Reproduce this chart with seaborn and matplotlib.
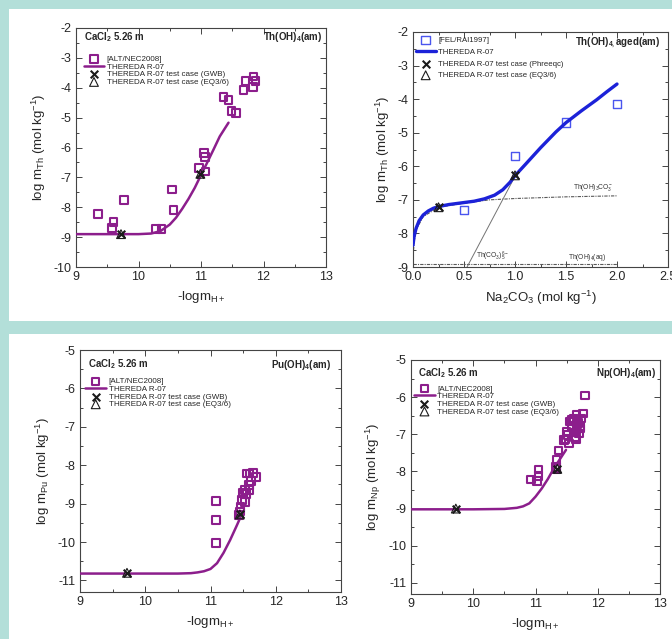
import matplotlib.pyplot as plt
import seaborn as sns
from matplotlib.patches import Rectangle
from matplotlib.ticker import MultipleLocator, FormatStrFormatter


# DATA: Th(OH)4(am) IN 5.26 m CaCl2
TH_SQ_X = [9.35, 9.60, 9.58, 9.77, 10.28, 10.37, 10.54, 10.56, 10.97, 11.05, 11.06, 11.07,
           11.36, 11.44, 11.49, 11.56, 11.68, 11.71, 11.83, 11.84, 11.87]
TH_SQ_Y = [-8.23, -8.49, -8.70, -7.75, -8.73, -8.73, -7.41, -8.10, -6.69, -6.18, -6.32, -6.80,
           -4.30, -4.41, -4.78, -4.84, -4.08, -3.77, -3.97, -3.62, -3.77]
TH_LINE_X = [9.0, 9.5, 10.0, 10.2, 10.35, 10.5, 10.6, 10.7, 10.8, 10.9, 11.0, 11.1, 11.2, 11.3, 11.44]
TH_LINE_Y = [-8.90, -8.90, -8.90, -8.88, -8.80, -8.58, -8.35, -8.05, -7.72, -7.35, -6.92, -6.50,
             -6.07, -5.63, -5.17]
TH_TEST_X = [9.72, 10.99]
TH_TEST_Y = [-8.90, -6.88]

# DATA: Th(OH)4 aged IN Na2CO3
NA_SQ_X = [0.5, 1.0, 1.5, 2.0]
NA_SQ_Y = [-7.30, -5.70, -4.70, -4.15]
NA_LINE_X = [0.0, 0.01, 0.03, 0.06, 0.1, 0.15, 0.2, 0.25, 0.35, 0.5, 0.6, 0.7, 0.8, 0.88, 0.95,
             1.0, 1.1, 1.25, 1.4, 1.5, 1.65, 1.8, 1.9, 2.0]
NA_LINE_Y = [-8.35, -8.10, -7.85, -7.62, -7.45, -7.33, -7.25, -7.20, -7.14, -7.08, -7.04, -6.97,
             -6.86, -6.70, -6.48, -6.28, -5.95, -5.45, -4.98, -4.70, -4.35, -4.02, -3.78, -3.55]
NA_TEST_X = [0.25, 1.0]
NA_TEST_Y = [-7.22, -6.27]
OHCO3_X = [0.0, 0.003, 0.01, 0.03, 0.1, 0.25, 0.5, 0.75, 1.0, 1.5, 2.0]
OHCO3_Y = [-8.90, -8.60, -8.30, -7.90, -7.50, -7.22, -7.10, -7.00, -6.96, -6.91, -6.88]
CO3_X = [0.53, 1.0]
CO3_Y = [-9.0, -6.3]
OHAQ_X = [0.0, 2.0]
OHAQ_Y = [-8.9, -8.9]

# DATA: Pu(OH)4(am) IN 5.26 m CaCl2
PU_SQ_X = [11.08, 11.08, 11.08, 11.44, 11.45, 11.46, 11.48, 11.53, 11.50, 11.55, 11.53, 11.60,
           11.59, 11.62, 11.55, 11.60, 11.65, 11.70]
PU_SQ_Y = [-8.93, -9.42, -10.03, -9.30, -9.20, -9.08, -8.90, -8.95, -8.73, -8.75, -8.65, -8.65,
           -8.52, -8.41, -8.22, -8.22, -8.20, -8.30]
PU_LINE_X = [9.0, 10.0, 10.5, 10.7, 10.8, 10.9, 11.0, 11.1, 11.2, 11.3, 11.4, 11.46]
PU_LINE_Y = [-10.82, -10.82, -10.82, -10.81, -10.79, -10.76, -10.70, -10.55, -10.28, -9.95,
             -9.58, -9.35]
PU_TEST_X = [9.72, 11.45]
PU_TEST_Y = [-10.80, -9.28]

# DATA: Np(OH)4(am) IN 5.26 m CaCl2
NP_SQ_X = [10.93, 11.02, 11.05, 11.05, 11.33, 11.34, 11.34, 11.37, 11.46, 11.48, 11.50, 11.52,
           11.54, 11.55, 11.58, 11.58, 11.61, 11.63, 11.63, 11.65, 11.66, 11.66, 11.67, 11.69,
           11.70, 11.71, 11.72, 11.74, 11.76, 11.80]
NP_SQ_Y = [-8.22, -8.25, -8.12, -7.95, -7.88, -7.93, -7.70, -7.44, -7.16, -7.14, -6.93, -7.02,
           -7.25, -6.66, -6.80, -6.62, -6.57, -6.95, -7.07, -7.13, -6.89, -6.48, -6.72, -6.70,
           -6.98, -6.80, -6.84, -6.57, -6.44, -5.96]
NP_LINE_X = [9.0, 10.0, 10.5, 10.7, 10.8, 10.9, 11.0, 11.1, 11.2, 11.3, 11.4, 11.49]
NP_LINE_Y = [-9.02, -9.02, -9.01, -8.98, -8.94, -8.86, -8.68, -8.46, -8.20, -7.90, -7.65, -7.42]
NP_TEST_X = [9.72, 11.35]
NP_TEST_Y = [-9.00, -7.93]


PURPLE = '#8c1e8c'
BLUE = '#1c22d8'
TEAL = '#b3dfd9'

sns.set_theme(style='ticks')
plt.rcParams['font.family'] = ['Liberation Sans', 'DejaVu Sans']
plt.rcParams['axes.unicode_minus'] = False
plt.rcParams['mathtext.default'] = 'regular'

fig = plt.figure(figsize=(6.72, 6.39), dpi=100, facecolor=TEAL)

# WHITE PANELS ON THE TEAL BACKGROUND
fig.add_artist(Rectangle((9 / 672, 1 - 321 / 639), 1, 312 / 639, transform=fig.transFigure,
                         facecolor='white', edgecolor='none', zorder=0))
fig.add_artist(Rectangle((9 / 672, 0), 1, 1 - 334 / 639, transform=fig.transFigure,
                         facecolor='white', edgecolor='none', zorder=0))


def style_axes(ax, xlim, ylim, xmajor, xminor, yminor=0.5):
    ax.set_xlim(*xlim)
    ax.set_ylim(*ylim)
    ax.set_facecolor('white')
    ax.xaxis.set_major_locator(MultipleLocator(xmajor))
    ax.xaxis.set_minor_locator(MultipleLocator(xminor))
    ax.yaxis.set_major_locator(MultipleLocator(1))
    ax.yaxis.set_minor_locator(MultipleLocator(yminor))
    ax.tick_params(which='both', direction='in', top=True, right=True,
                   color='#444444', width=0.7, labelsize=9, pad=3)
    ax.tick_params(which='major', length=4)
    ax.tick_params(which='minor', length=2)
    for sp in ax.spines.values():
        sp.set_color('#444444')
        sp.set_linewidth(0.8)


def draw_cacl2(ax, sq_x, sq_y, line_x, line_y, test_x, test_y, ylim, elem, title,
               text_pos, title_pos, legend_pos):
    sns.scatterplot(x=sq_x, y=sq_y, marker='s', s=30, color=PURPLE, facecolor='none',
                    edgecolor=PURPLE, linewidth=1.5, label='[ALT/NEC2008]', ax=ax, zorder=3)
    sns.lineplot(x=line_x, y=line_y, color=PURPLE, linewidth=1.8, sort=False, estimator=None,
                 label='THEREDA R-07', ax=ax, zorder=4)
    sns.scatterplot(x=test_x, y=test_y, marker='x', s=30, color='k', linewidth=1.5,
                    label='THEREDA R-07 test case (GWB)', ax=ax, zorder=5)
    sns.scatterplot(x=test_x, y=test_y, marker='^', s=40, color='k', facecolor='none',
                    edgecolor='k', linewidth=0.8,
                    label='THEREDA R-07 test case (EQ3/6)', ax=ax, zorder=5)
    style_axes(ax, (9, 13), ylim, 1, 0.5)
    ax.set_xlabel('-logm$_{H+}$', fontsize=9.5)
    ax.set_ylabel('log m$_{' + elem + '}$ (mol kg$^{-1}$)', fontsize=9.5)
    ax.text(*text_pos, 'CaCl$_2$ 5.26 m', transform=ax.transAxes, fontsize=7,
            fontweight='bold', va='center')
    ax.text(*title_pos, title, transform=ax.transAxes, fontsize=7, fontweight='bold',
            va='center', ha='right')
    h, labs = ax.get_legend_handles_labels()
    ax.legend(h, labs, loc='upper left', bbox_to_anchor=legend_pos, frameon=False,
              fontsize=5.8, borderpad=0, borderaxespad=0, labelspacing=0.0,
              handlelength=2.6, handletextpad=0.3)


# TOP LEFT: Th(OH)4(am)
ax1 = fig.add_axes([76 / 672, 1 - 267 / 639, 250 / 672, 239 / 639])
draw_cacl2(ax1, TH_SQ_X, TH_SQ_Y, TH_LINE_X, TH_LINE_Y, TH_TEST_X, TH_TEST_Y, (-10, -2),
           'Th', 'Th(OH)$_4$(am)', (0.03, 0.962), (0.985, 0.962), (0.03, 0.885))

# TOP RIGHT: Th(OH)4 aged IN Na2CO3
ax2 = fig.add_axes([413 / 672, 1 - 267 / 639, 255 / 672, 235 / 639])
sns.lineplot(x=OHCO3_X, y=OHCO3_Y, color='0.35', linewidth=0.8, linestyle=(0, (3, 1, 1, 1)),
             sort=False, estimator=None, ax=ax2, zorder=2)
sns.lineplot(x=OHAQ_X, y=OHAQ_Y, color='0.35', linewidth=0.8, linestyle=(0, (3, 1, 1, 1)),
             sort=False, estimator=None, ax=ax2, zorder=2)
sns.lineplot(x=CO3_X, y=CO3_Y, color='0.45', linewidth=0.7, sort=False, estimator=None,
             ax=ax2, zorder=2)
sns.scatterplot(x=NA_SQ_X, y=NA_SQ_Y, marker='s', s=36, color='#4a55ee', facecolor='none',
                edgecolor='#4a55ee', linewidth=1.0, label='[FEL/RAI1997]', ax=ax2, zorder=3)
sns.lineplot(x=NA_LINE_X, y=NA_LINE_Y, color=BLUE, linewidth=2.4, sort=False, estimator=None,
             label='THEREDA R-07', ax=ax2, zorder=4)
sns.scatterplot(x=NA_TEST_X, y=NA_TEST_Y, marker='x', s=30, color='k', linewidth=1.5,
                label='THEREDA R-07 test case (Phreeqc)', ax=ax2, zorder=5)
sns.scatterplot(x=NA_TEST_X, y=NA_TEST_Y, marker='^', s=40, color='k', facecolor='none',
                edgecolor='k', linewidth=0.8, label='THEREDA R-07 test case (EQ3/6)',
                ax=ax2, zorder=5)
style_axes(ax2, (0, 2.5), (-9, -2), 0.5, 0.25)
ax2.xaxis.set_major_formatter(FormatStrFormatter('%.1f'))
ax2.set_xlabel('Na$_2$CO$_3$ (mol kg$^{-1}$)', fontsize=9.5)
ax2.set_ylabel('log m$_{Th}$ (mol kg$^{-1}$)', fontsize=9.5)
ax2.text(0.97, 0.953, 'Th(OH)$_{4,}$aged(am)', transform=ax2.transAxes, fontsize=7,
         fontweight='bold', va='center', ha='right')
ax2.text(1.57, -6.68, 'Th(OH)$_3$CO$_3^-$', fontsize=4.8, color='0.2')
ax2.text(0.62, -8.75, 'Th(CO$_3$)$_5^{6-}$', fontsize=4.8, color='0.2')
ax2.text(1.52, -8.75, 'Th(OH)$_4$(aq)', fontsize=4.8, color='0.2')
h, labs = ax2.get_legend_handles_labels()
ax2.legend(h, labs, loc='upper left', bbox_to_anchor=(0.01, 0.98), frameon=False,
           fontsize=5.6, borderpad=0, borderaxespad=0, labelspacing=0.55,
           handlelength=2.6, handletextpad=0.3)

# BOTTOM LEFT: Pu(OH)4(am)
ax3 = fig.add_axes([80 / 672, 1 - 592 / 639, 261 / 672, 242 / 639])
draw_cacl2(ax3, PU_SQ_X, PU_SQ_Y, PU_LINE_X, PU_LINE_Y, PU_TEST_X, PU_TEST_Y, (-11.3, -5),
           'Pu', 'Pu(OH)$_4$(am)', (0.03, 0.94), (0.96, 0.94), (0.02, 0.885))

# BOTTOM RIGHT: Np(OH)4(am)
ax4 = fig.add_axes([411 / 672, 1 - 594 / 639, 249 / 672, 234 / 639])
draw_cacl2(ax4, NP_SQ_X, NP_SQ_Y, NP_LINE_X, NP_LINE_Y, NP_TEST_X, NP_TEST_Y, (-11.3, -5),
           'Np', 'Np(OH)$_4$(am)', (0.03, 0.944), (0.985, 0.944), (0.012, 0.893))

fig.savefig('out.png', dpi=100, facecolor=TEAL)
